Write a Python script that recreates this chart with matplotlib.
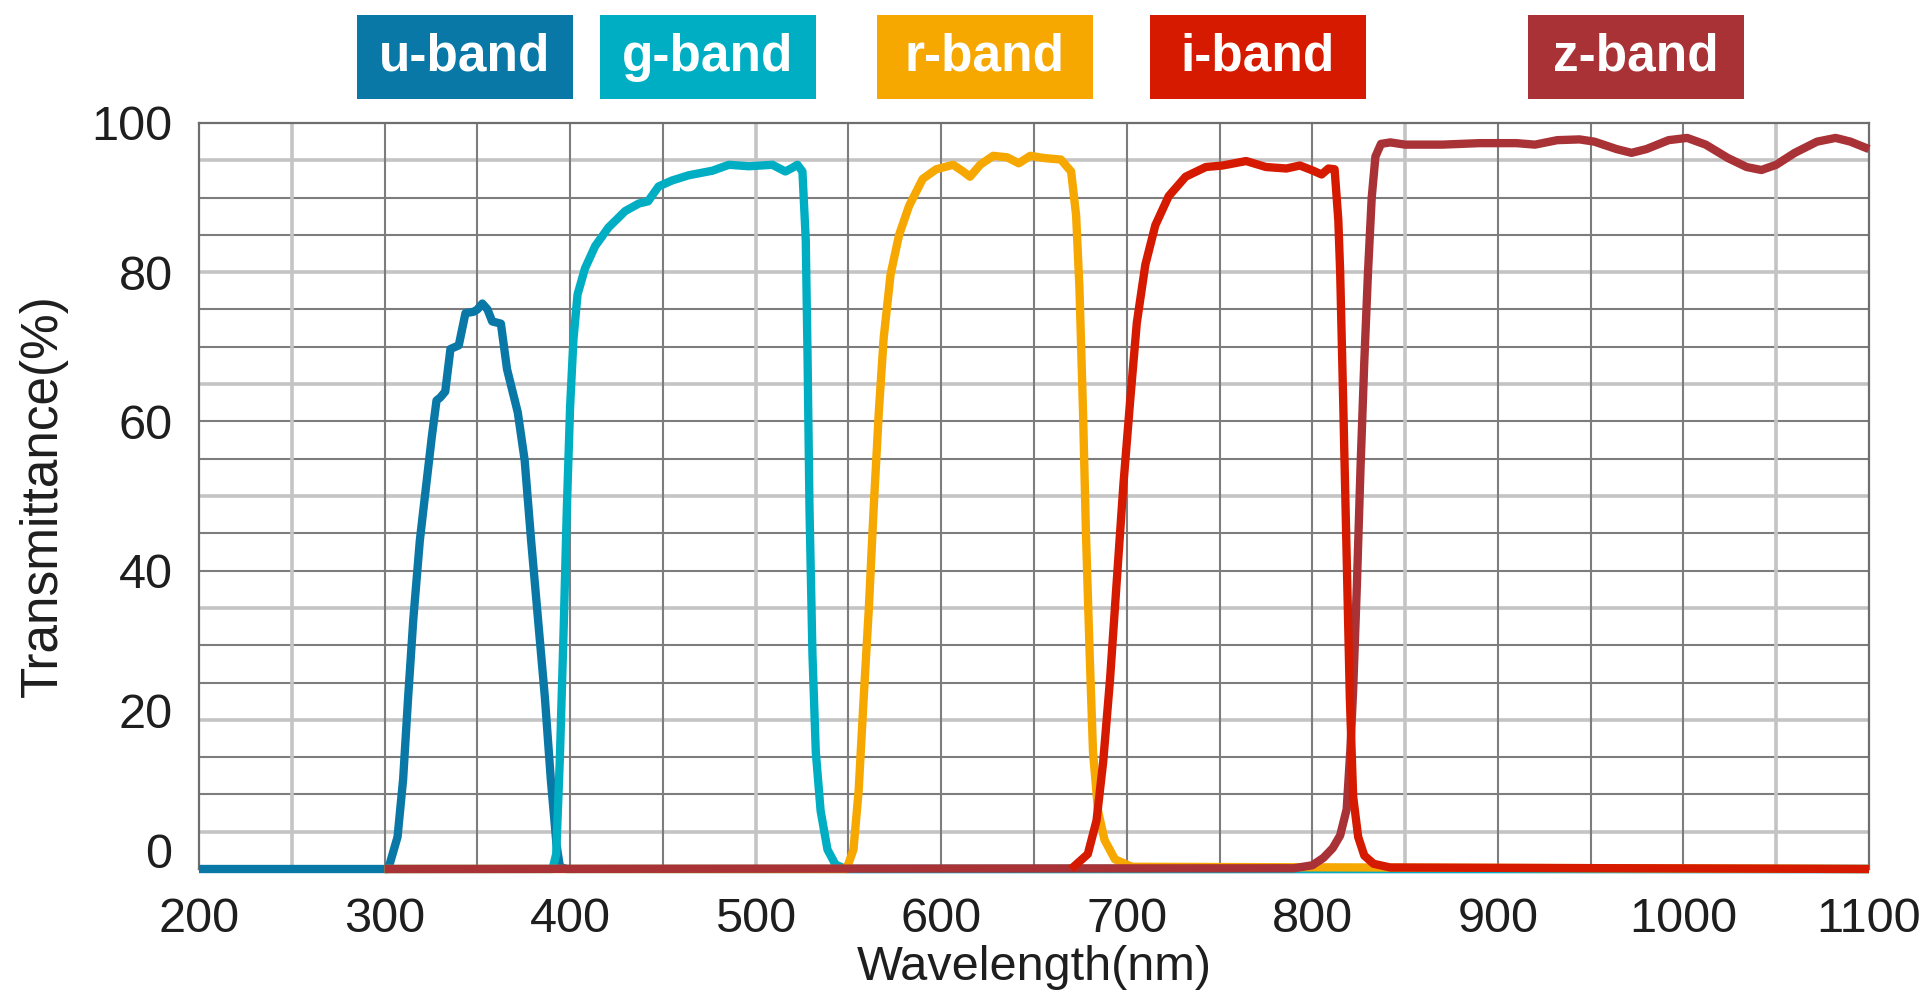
import numpy as np
import matplotlib
matplotlib.use('Agg')
import matplotlib.pyplot as plt
from matplotlib.patches import Rectangle
from matplotlib.transforms import ScaledTranslation

plt.rcParams['font.family'] = ['Liberation Sans', 'DejaVu Sans']

# transmittance curves (wavelength in nm, transmittance in %)
u_wl = [200, 300, 302, 307, 310, 312.7, 315.5, 319, 322, 325.5, 328, 330, 332.7, 335.5, 340,
        343.6, 348, 350, 352.7, 355.5, 358, 362.7, 366, 371.8, 375.5, 379, 382.7, 386.4,
        389.6, 392.7, 394.5, 398, 1100]
u_t = [0, 0, 0, 4.3, 12, 23, 33.5, 44, 50.5, 58, 62.8, 63.2, 64, 69.7, 70.2,
       74.5, 74.7, 75, 75.8, 75, 73.4, 73.1, 67, 61.2, 54.8, 44, 33.5, 23,
       12, 3.2, 0.3, 0, 0]

g_wl = [300, 390.5, 392.5, 394.5, 396.5, 398.2, 400, 401.8, 404, 408, 413.5, 420.7, 429.7, 437,
        442, 447.7, 455, 464, 476.6, 485.6, 496.4, 509, 516, 519.8, 522.5, 525.2, 527, 528,
        529, 530.6, 532.4, 535, 538.7, 543, 548.6, 1100]
g_t = [0, 0, 2, 15, 32, 48, 62, 71, 77, 80.5, 83.5, 86, 88.2, 89.2,
       89.5, 91.5, 92.3, 93, 93.6, 94.4, 94.2, 94.4, 93.5, 94, 94.4, 93.5, 84.3, 68,
       48.4, 28.8, 15.7, 7.8, 2.6, 0.6, 0, 0]

r_wl = [300, 549, 552.7, 555.5, 558, 561, 563.6, 566.4, 569, 572.7, 577.3, 582.7, 590, 597.3,
        606.4, 611.8, 615.5, 621, 628, 635.5, 641.8, 648, 655.5, 664.5, 670, 672.7, 674.5,
        676.4, 678, 680, 681.8, 684.5, 688, 693.6, 702.7, 1100]
r_t = [0, 0, 2.6, 10.5, 22, 35, 48.4, 61.4, 71.2, 79.7, 85, 88.9, 92.5, 93.8,
       94.4, 93.5, 92.8, 94.4, 95.6, 95.4, 94.6, 95.6, 95.3, 95.1, 93.5, 87.6, 77.8,
       61.4, 45, 28.8, 15.7, 7.8, 3.9, 1.3, 0.3, 0]

i_wl = [670, 679, 683.7, 687.3, 691, 694.6, 698.2, 701.8, 705.4, 710, 715.4, 722.6, 731.7,
        742.6, 751.6, 764.3, 775, 786, 793.3, 800.5, 805, 808.7, 812, 814, 815, 816.6, 818.4,
        820.2, 822, 824.7, 828, 833, 842, 1100]
i_t = [0, 2, 6.5, 14.4, 25.5, 38.6, 51.6, 62.7, 73.2, 81, 86.3, 90.2, 92.8,
       94.1, 94.3, 94.9, 94.1, 93.9, 94.3, 93.6, 93.1, 93.9, 93.8, 87, 80, 63, 43,
       23, 9.7, 4.3, 1.8, 0.7, 0.2, 0]

z_wl = [300, 790, 800, 806, 811, 815, 818.5, 820.5, 822, 824, 826, 828, 830, 832, 834, 837,
        842, 850, 870, 890, 910, 920, 932, 944, 952, 964, 972, 980, 992, 1002, 1012, 1024,
        1034, 1042, 1050, 1060, 1072, 1082, 1090, 1100]
z_t = [0, 0.1, 0.5, 1.5, 2.8, 4.5, 8, 16, 24, 38, 54, 68, 80, 90, 95.5, 97.2,
       97.4, 97.1, 97.1, 97.3, 97.3, 97.1, 97.7, 97.8, 97.5, 96.5, 96, 96.5, 97.7, 98, 97.1, 95.3,
       94.1, 93.7, 94.4, 96, 97.5, 98, 97.5, 96.5]

band_names = ['u-band', 'g-band', 'r-band', 'i-band', 'z-band']
band_colors = ['#0a78a7', '#00aec4', '#f6a700', '#d51a00', '#a83235']

x_ticks = [200, 300, 400, 500, 600, 700, 800, 900, 1000, 1100]
y_ticks = [0, 20, 40, 60, 80, 100]

W, H = 1932, 997
fig = plt.figure(figsize=(W / 100, H / 100), dpi=100)
ax = fig.add_axes([199 / W, 1 - 869 / H, 1670 / W, 746 / H])
ax.set_xlim(200, 1100)
ax.set_ylim(0, 100)

# grid: thin dark lines with some wider pale ones
dark, pale = '#7d7d7d', '#c4c4c4'
for y in range(5, 100, 5):
    if (y - 5) % 15 == 0:
        ax.axhline(y, color=pale, lw=2.6, zorder=1)
    else:
        ax.axhline(y, color=dark, lw=1.5, zorder=1)
for x in range(250, 1100, 50):
    if x in (250, 500, 850, 1050):
        ax.axvline(x, color=pale, lw=2.6, zorder=1)
    else:
        ax.axvline(x, color=dark, lw=1.5, zorder=1)
for side in ['top', 'left', 'right', 'bottom']:
    ax.spines[side].set_color('#6e6e6e')
    ax.spines[side].set_linewidth(1.6)

curves = [(u_wl, u_t), (g_wl, g_t), (r_wl, r_t), (z_wl, z_t), (i_wl, i_t)]
colors = [band_colors[0], band_colors[1], band_colors[2], band_colors[4], band_colors[3]]
for (wl, t), c in zip(curves, colors):
    ax.plot(wl, t, color=c, lw=6, solid_joinstyle='round', solid_capstyle='butt',
            clip_on=False, zorder=3)

ax.set_xticks(x_ticks)
ax.set_yticks(y_ticks)
ax.tick_params(length=0, labelsize=35, colors='#1e1e1e')
ax.tick_params(axis='y', pad=19)
ax.tick_params(axis='x', pad=20)

# nudge the lowest y labels up a little
for lab, dy in zip(ax.get_yticklabels()[:2], [19, 9]):
    lab.set_transform(lab.get_transform() + ScaledTranslation(0, dy / 100, fig.dpi_scale_trans))

ax.set_xlabel('Wavelength(nm)', fontsize=35, color='#1e1e1e')
ax.set_ylabel('Transmittance(%)', fontsize=37, color='#1e1e1e')
ax.xaxis.set_label_coords(0.5, (869 - 967) / 746)
ax.xaxis.label.set_va('center')
ax.yaxis.set_label_coords((43 - 199) / 1670, 0.5)
ax.yaxis.label.set_va('center')

# colored band labels across the top
box_left = [357, 600, 877, 1150, 1528]
for name, c, x0 in zip(band_names, band_colors, box_left):
    fig.patches.append(Rectangle((x0 / W, 1 - 99 / H), 216 / W, 84 / H,
                                 transform=fig.transFigure, facecolor=c, edgecolor='none'))
    fig.text((x0 + 108) / W, 1 - 57 / H, name, color='white', fontsize=37,
             fontweight='bold', ha='center', va='center')

fig.savefig('out.png', dpi=100)
